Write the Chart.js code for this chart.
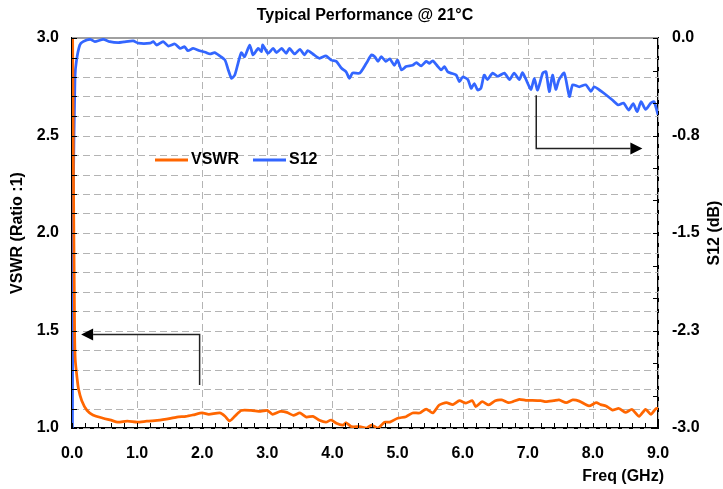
<!DOCTYPE html>
<html><head><meta charset="utf-8">
<script src="https://cdn.jsdelivr.net/npm/chart.js@4"></script>
<style>html,body{margin:0;padding:0;background:#fff;overflow:hidden}</style>
</head><body>
<canvas id="c" width="723" height="489"></canvas>
<script>
// ---------- texts ----------
const chartTitle = 'Typical Performance @ 21°C';
const xAxisTitle = 'Freq (GHz)';
const leftAxisTitle = 'VSWR (Ratio :1)';
const rightAxisTitle = 'S12 (dB)';
const seriesNames = ['VSWR', 'S12'];

// ---------- tick labels ----------
const xTickLabels = ['0.0','1.0','2.0','3.0','4.0','5.0','6.0','7.0','8.0','9.0'];
const leftTickLabels = ['1.0','1.5','2.0','2.5','3.0'];
const rightTickLabels = ['-3.0','-2.3','-1.5','-0.8','0.0'];

// ---------- series ----------
const vswrFreq = [0.00,0.02,0.04,0.05,0.08,0.10,0.15,0.23,0.32,0.48,0.60,0.70,0.85,1.00,1.15,1.35,1.45,1.61,1.75,1.86,2.00,2.10,2.27,2.35,2.42,2.50,2.60,2.75,2.90,3.00,3.08,3.20,3.30,3.40,3.50,3.60,3.70,3.80,3.90,3.98,4.06,4.16,4.21,4.29,4.42,4.52,4.60,4.70,4.80,4.88,5.00,5.13,5.23,5.34,5.44,5.54,5.64,5.75,5.85,5.95,6.05,6.15,6.20,6.30,6.40,6.50,6.60,6.70,6.77,6.87,6.97,7.07,7.20,7.28,7.40,7.48,7.59,7.69,7.79,7.94,8.05,8.12,8.20,8.30,8.40,8.50,8.60,8.71,8.81,8.89,8.97,9.00];
const vswrValues = [3.60,2.40,1.50,1.35,1.25,1.20,1.14,1.09,1.067,1.05,1.04,1.03,1.035,1.03,1.035,1.04,1.045,1.056,1.06,1.067,1.077,1.07,1.077,1.06,1.036,1.06,1.09,1.09,1.085,1.09,1.07,1.085,1.08,1.065,1.077,1.056,1.06,1.04,1.03,1.041,1.024,1.015,1.027,1.007,1.007,1.0,1.015,1.0,1.03,1.03,1.05,1.058,1.077,1.077,1.097,1.077,1.118,1.13,1.12,1.14,1.128,1.14,1.11,1.135,1.118,1.14,1.144,1.13,1.135,1.147,1.142,1.142,1.14,1.135,1.14,1.144,1.13,1.144,1.138,1.113,1.13,1.12,1.113,1.092,1.10,1.08,1.095,1.06,1.096,1.07,1.10,1.10];

const s12Freq = [0.00,0.02,0.046,0.07,0.12,0.17,0.28,0.35,0.48,0.58,0.71,0.80,0.94,1.02,1.20,1.25,1.30,1.40,1.48,1.58,1.66,1.73,1.78,1.86,1.96,2.05,2.12,2.19,2.27,2.35,2.40,2.45,2.50,2.55,2.60,2.65,2.73,2.78,2.86,2.91,2.93,3.01,3.09,3.14,3.22,3.29,3.34,3.42,3.50,3.57,3.62,3.70,3.80,3.90,3.98,4.06,4.14,4.21,4.26,4.31,4.42,4.52,4.60,4.65,4.70,4.75,4.82,4.88,4.95,5.00,5.06,5.13,5.23,5.29,5.36,5.44,5.49,5.54,5.62,5.67,5.72,5.77,5.82,5.90,5.95,6.00,6.08,6.13,6.18,6.23,6.28,6.33,6.38,6.46,6.54,6.64,6.72,6.79,6.87,6.92,7.00,7.05,7.10,7.15,7.23,7.28,7.33,7.38,7.43,7.48,7.56,7.64,7.69,7.79,7.89,7.97,8.02,8.10,8.17,8.30,8.39,8.47,8.55,8.62,8.68,8.74,8.81,8.89,8.94,9.00];
const s12Values = [-4.0,-1.2,-0.30,-0.17,-0.054,-0.028,-0.01,-0.028,-0.01,-0.028,-0.036,-0.03,-0.023,-0.04,-0.04,-0.028,-0.054,-0.028,-0.062,-0.046,-0.08,-0.067,-0.098,-0.08,-0.098,-0.11,-0.123,-0.113,-0.138,-0.17,-0.246,-0.31,-0.285,-0.195,-0.113,-0.144,-0.054,-0.13,-0.08,-0.105,-0.054,-0.118,-0.08,-0.113,-0.08,-0.118,-0.08,-0.123,-0.087,-0.13,-0.098,-0.123,-0.156,-0.138,-0.17,-0.18,-0.233,-0.26,-0.31,-0.27,-0.27,-0.195,-0.13,-0.144,-0.18,-0.144,-0.18,-0.16,-0.21,-0.17,-0.246,-0.22,-0.21,-0.19,-0.215,-0.18,-0.195,-0.175,-0.22,-0.246,-0.22,-0.26,-0.27,-0.285,-0.336,-0.30,-0.32,-0.387,-0.35,-0.40,-0.387,-0.285,-0.32,-0.27,-0.295,-0.27,-0.32,-0.27,-0.32,-0.267,-0.35,-0.395,-0.31,-0.40,-0.27,-0.26,-0.413,-0.285,-0.395,-0.32,-0.27,-0.45,-0.36,-0.375,-0.36,-0.41,-0.375,-0.40,-0.425,-0.477,-0.515,-0.50,-0.554,-0.505,-0.567,-0.49,-0.55,-0.50,-0.49,-0.59];

// ---------- annotation arrows (data coordinates) ----------
const arrowLeft  = {axis: 'yL', fx: [1.96, 1.96, 0.14], vy: [1.22, 1.48, 1.48]};
const arrowRight = {axis: 'yR', fx: [7.13, 7.13, 8.76], vy: [-0.44, -0.85, -0.85]};

// ---------- styles ----------
const FAMILY = '"Liberation Sans", Arial, Helvetica, sans-serif';
const BOLD16 = 'bold 16px ' + FAMILY;
const ORANGE = '#FF6600';
const BLUE = '#3366FF';
const GRID = '#b4b4b4';

function isMultiple(v, step) {
  const r = v / step;
  return Math.abs(r - Math.round(r)) < 1e-6;
}

const customDraw = {
  id: 'customDraw',
  beforeDatasetsDraw(chart) {
    const {ctx, chartArea: a, scales} = chart;
    ctx.save();
    // dashed grid lines
    ctx.strokeStyle = GRID;
    ctx.lineWidth = 1;
    ctx.setLineDash([7, 4]);
    ctx.beginPath();
    scales.yL.ticks.forEach(t => {
      const py = Math.round(scales.yL.getPixelForValue(t.value)) + 0.5;
      ctx.moveTo(a.left, py); ctx.lineTo(a.right, py);
    });
    scales.x.ticks.forEach(t => {
      if (!isMultiple(t.value, 1)) return;
      const px = Math.round(scales.x.getPixelForValue(t.value)) + 0.5;
      ctx.moveTo(px, a.top); ctx.lineTo(px, a.bottom);
    });
    ctx.stroke();
    ctx.setLineDash([]);
    // top frame line
    ctx.strokeStyle = '#a0a0a0';
    ctx.lineWidth = 2;
    ctx.beginPath();
    ctx.moveTo(a.left, a.top);
    ctx.lineTo(a.right, a.top);
    ctx.stroke();
    ctx.restore();
  },
  afterDraw(chart) {
    const {ctx, chartArea: a, scales} = chart;
    ctx.save();
    // inner tick marks
    ctx.strokeStyle = '#000';
    ctx.lineWidth = 1;
    ctx.beginPath();
    scales.x.ticks.forEach(t => {
      const px = Math.round(scales.x.getPixelForValue(t.value)) + 0.5;
      ctx.moveTo(px, a.bottom); ctx.lineTo(px, a.bottom - 5);
    });
    scales.yL.ticks.forEach(t => {
      const py = Math.round(scales.yL.getPixelForValue(t.value)) + 0.5;
      ctx.moveTo(a.left, py); ctx.lineTo(a.left + 5, py);
    });
    scales.yR.ticks.forEach(t => {
      const py = Math.round(scales.yR.getPixelForValue(t.value)) + 0.5;
      ctx.moveTo(a.right, py); ctx.lineTo(a.right - 5, py);
    });
    ctx.stroke();

    // arrows
    [arrowLeft, arrowRight].forEach(ar => {
      const ys = scales[ar.axis];
      const pts = ar.fx.map((f, i) => [scales.x.getPixelForValue(f), ys.getPixelForValue(ar.vy[i])]);
      ctx.strokeStyle = '#222';
      ctx.fillStyle = '#000';
      ctx.lineWidth = 1.5;
      const n = pts.length;
      const [tx, ty] = pts[n - 1];
      const [px, py] = pts[n - 2];
      const ang = Math.atan2(ty - py, tx - px);
      const L = 12, W = 6;
      const bx = tx - L * Math.cos(ang), by = ty - L * Math.sin(ang);
      ctx.beginPath();
      ctx.moveTo(pts[0][0], pts[0][1]);
      for (let i = 1; i < n - 1; i++) ctx.lineTo(pts[i][0], pts[i][1]);
      ctx.lineTo(bx, by);
      ctx.stroke();
      ctx.beginPath();
      ctx.moveTo(tx, ty);
      ctx.lineTo(bx - W * Math.sin(ang), by + W * Math.cos(ang));
      ctx.lineTo(bx + W * Math.sin(ang), by - W * Math.cos(ang));
      ctx.closePath();
      ctx.fill();
    });

    // legend
    const ly = a.top + 122;
    let lx = a.left + 83;
    ctx.font = BOLD16;
    ctx.textBaseline = 'middle';
    ctx.textAlign = 'left';
    chart.data.datasets.forEach((ds, i) => {
      ctx.strokeStyle = ds.borderColor;
      ctx.lineWidth = 3;
      ctx.beginPath();
      ctx.moveTo(lx, ly); ctx.lineTo(lx + 33, ly);
      ctx.stroke();
      ctx.fillStyle = '#000';
      ctx.fillText(ds.label, lx + 36, ly);
      lx += 36 + ctx.measureText(ds.label).width + 14;
    });

    // axis titles
    ctx.fillStyle = '#000';
    ctx.font = BOLD16;
    ctx.textAlign = 'center';
    ctx.textBaseline = 'middle';
    const midY = (a.top + a.bottom) / 2;
    ctx.save();
    ctx.translate(18, midY);
    ctx.rotate(-Math.PI / 2);
    ctx.fillText(leftAxisTitle, 0, 0);
    ctx.restore();
    ctx.save();
    ctx.translate(chart.width - 8, midY);
    ctx.rotate(-Math.PI / 2);
    ctx.fillText(rightAxisTitle, 0, 0);
    ctx.restore();
    ctx.textAlign = 'right';
    ctx.fillText(xAxisTitle, a.right + 6, a.bottom + 49);
    ctx.restore();
  }
};

const tickFont = {family: FAMILY, size: 16, weight: 'bold'};

new Chart(document.getElementById('c'), {
  type: 'line',
  data: {
    datasets: [
      {label: seriesNames[0], data: vswrFreq.map((f, i) => ({x: f, y: vswrValues[i]})), yAxisID: 'yL',
       borderColor: ORANGE, borderWidth: 2.75, pointRadius: 0, tension: 0.2, fill: false},
      {label: seriesNames[1], data: s12Freq.map((f, i) => ({x: f, y: s12Values[i]})), yAxisID: 'yR',
       borderColor: BLUE, borderWidth: 2.75, pointRadius: 0, tension: 0.2, fill: false}
    ]
  },
  options: {
    responsive: false,
    devicePixelRatio: 1,
    animation: false,
    layout: {padding: 0},
    plugins: {
      legend: {display: false},
      tooltip: {enabled: false},
      title: {display: true, text: chartTitle, fullSize: false, color: '#000',
              font: {family: FAMILY, size: 16, weight: 'bold', lineHeight: 1.2},
              padding: {top: 6, bottom: 12.8}}
    },
    scales: {
      x: {
        type: 'linear', min: 0, max: 9,
        afterFit: s => { s.height = 61; },
        ticks: {stepSize: 0.2, autoSkip: false, maxRotation: 0, minRotation: 0, padding: 16,
                color: '#000', font: tickFont,
                callback: v => isMultiple(v, 1) ? xTickLabels[Math.round(v)] : ''},
        grid: {display: false, drawTicks: false},
        border: {display: true, color: '#000', width: 2}
      },
      yL: {
        type: 'linear', position: 'left', min: 1, max: 3,
        afterFit: s => { s.width = 72; },
        ticks: {stepSize: 0.1, autoSkip: false, padding: 13, color: '#000', font: tickFont,
                callback: v => isMultiple(v - 1, 0.5) ? leftTickLabels[Math.round((v - 1) / 0.5)] : ''},
        grid: {display: false, drawTicks: false},
        border: {display: true, color: '#000', width: 2}
      },
      yR: {
        type: 'linear', position: 'right', min: -3, max: 0,
        afterFit: s => { s.width = 65; },
        ticks: {stepSize: 0.25, autoSkip: false, padding: 14, color: '#000', font: tickFont,
                callback: v => isMultiple(v + 3, 0.75) ? rightTickLabels[Math.round((v + 3) / 0.75)] : ''},
        grid: {display: false, drawTicks: false},
        border: {display: true, color: '#000', width: 2}
      }
    }
  },
  plugins: [customDraw]
});
</script>
</body></html>
